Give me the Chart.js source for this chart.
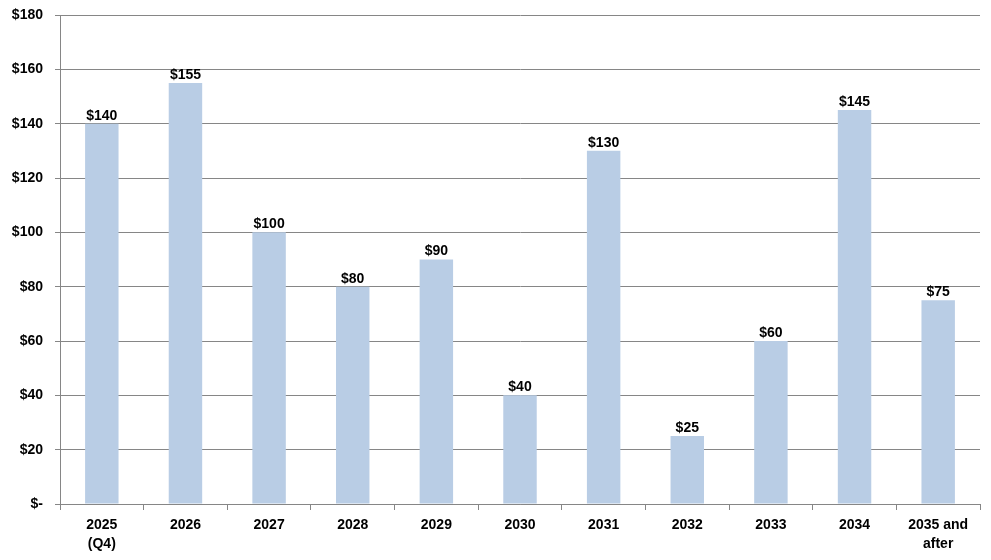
<!DOCTYPE html>
<html>
<head>
<meta charset="utf-8">
<script src="https://cdn.jsdelivr.net/npm/chart.js@4"></script>
<style>
html,body{margin:0;padding:0;background:#fff;}
#wrap{width:991px;height:560px;}
</style>
</head>
<body>
<div id="wrap"><canvas id="c" width="991" height="560"></canvas></div>
<script>
const categories = [["2025","(Q4)"],"2026","2027","2028","2029","2030","2031","2032","2033","2034",["2035 and","after"]];
const values = [140,155,100,80,90,40,130,25,60,145,75];
const yMin = 0, yMax = 180, yStep = 20;

const FONT = "'Liberation Sans', Arial, sans-serif";

const labelPlugin = {
  id: 'valueLabels',
  afterDatasetsDraw(chart) {
    const ctx = chart.ctx;
    const meta = chart.getDatasetMeta(0);
    ctx.save();
    ctx.font = "bold 14px " + FONT;
    ctx.fillStyle = "#000";
    ctx.textAlign = "center";
    ctx.textBaseline = "bottom";
    meta.data.forEach((bar, i) => {
      ctx.fillText("$" + values[i], bar.x, bar.y - 1);
    });
    ctx.restore();
  }
};

new Chart(document.getElementById('c'), {
  type: 'bar',
  data: {
    labels: categories,
    datasets: [{
      data: values,
      backgroundColor: '#B9CDE5',
      borderWidth: 0,
      barPercentage: 0.8,
      categoryPercentage: 0.5
    }]
  },
  options: {
    responsive: false,
    animation: false,
    devicePixelRatio: 1,
    layout: { padding: { left: 0, right: 11, top: 15, bottom: 0 } },
    plugins: { legend: { display: false }, tooltip: { enabled: false } },
    scales: {
      x: {
        offset: true,
        grid: { display: true, drawOnChartArea: false, drawTicks: true, tickLength: 6, offset: true, color: '#868686' },
        border: { display: true, color: '#868686', width: 1 },
        ticks: { color: '#000', font: { family: FONT, size: 14, weight: 'bold', lineHeight: 1.35 }, padding: 6, maxRotation: 0, autoSkip: false },
        afterFit(scale) { scale.height = 56; scale.paddingLeft = 0; scale.paddingRight = 0; }
      },
      y: {
        min: yMin, max: yMax,
        grid: { color: '#868686', drawTicks: true, tickLength: 5 },
        border: { display: true, color: '#868686', width: 1 },
        ticks: {
          stepSize: yStep,
          color: '#000',
          font: { family: FONT, size: 14, weight: 'bold' },
          padding: 12,
          callback: v => v === 0 ? '$-' : '$' + v
        },
        afterFit(scale) { scale.width = 60; scale.paddingTop = 0; scale.paddingBottom = 0; }
      }
    }
  },
  plugins: [labelPlugin]
});
</script>
</body>
</html>
